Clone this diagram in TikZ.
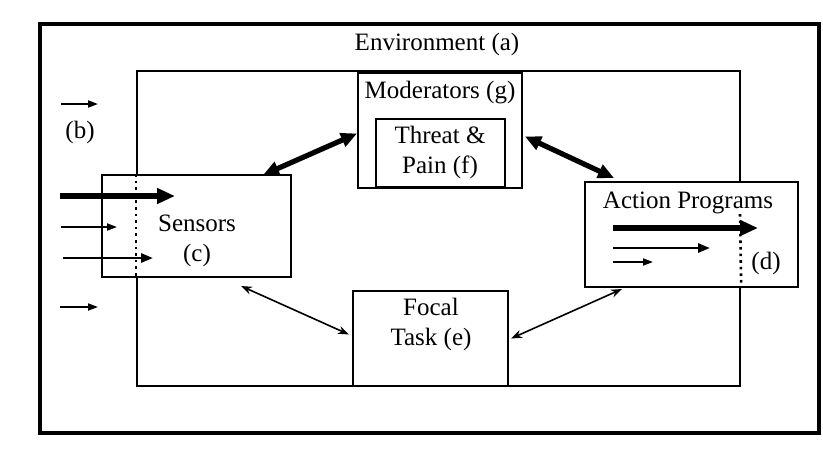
\documentclass[tikz,border=0pt]{standalone}
\usepackage{fontspec}
\setmainfont{Liberation Serif}
\usetikzlibrary{arrows.meta, fit}

\begin{document}
\begin{tikzpicture}[
        x=0.5pt, y=-0.5pt,
        font=\fontsize{12.5}{15}\selectfont,
        box/.style={draw, line width=1pt, fill=white, inner sep=0pt},
        lbl/.style={align=center, inner sep=0pt},
        bigarr/.style={-{Triangle[length=9pt, width=7.5pt]}, line width=3pt},
        midarr/.style={-{Triangle[length=6pt, width=4.5pt]}, line width=1.4pt},
        thinarr/.style={-{Triangle[length=5pt, width=3.5pt]}, line width=0.9pt},
        link/.style={{Triangle[length=8pt, width=7pt]}-{Triangle[length=8pt, width=7pt]}, line width=2.6pt},
        thinlink/.style={{Stealth[length=5.5pt, width=4pt]}-{Stealth[length=5.5pt, width=4pt]}, line width=0.8pt},
    ]
    \useasboundingbox (0,0) rectangle (823,457);

    % Outer frame and environment
    \node[draw, line width=2.2pt, inner sep=0pt, fit={(40,24) (819,433)}] (frame) {};
    \node[draw, line width=1.2pt, inner sep=0pt, fit={(137,71) (740,386)}] (env) {};
    \node[lbl] (envtxt) at (437,44) {Environment (a)};

    % Moderators with threat & pain inside
    \node[box, fit={(358,73) (522,188)}] (mod) {};
    \node[lbl] (modtxt) at (440,93) {Moderators (g)};
    \node[box, line width=1.3pt, fit={(376,119) (505,187)}] (threat) {};
    \node[lbl] (threattxt) at (440,152) {Threat \&\\Pain (f)};

    % Sensors
    \node[box, fit={(102,175) (291,277)}] (sens) {};
    \node[lbl] (senstxt) at (197,241) {Sensors\\(c)};
    \draw[dotted, line width=1.3pt] (sens.north -| env.west) -- (sens.south -| env.west);

    % Action programs
    \node[box, fit={(585,182) (798,287)}] (act) {};
    \node[lbl] (acttxt) at (688,203) {Action Programs};
    \node[lbl] (dtxt) at (766,263) {(d)};
    \coordinate (dtop) at (740,214);
    \draw[dotted, line width=1.3pt] (dtop) -- (act.south -| env.east);

    % Focal task
    \node[box, fit={(353,291) (508,386)}] (focal) {};
    \node[lbl] (focaltxt) at (431,324) {Focal\\Task (e)};

    % Inputs (b)
    \node[lbl] (btxt) at (80,132) {(b)};
    \coordinate (in0) at (61,104);
    \coordinate (in1) at (60,196);
    \coordinate (in2) at (61,227);
    \coordinate (in3) at (63,258);
    \coordinate (in4) at (60,307);
    \draw[thinarr] (in0) -- ++(37,0);
    \draw[bigarr] (in1) -- ++(115,0);
    \draw[thinarr] (in2) -- ++(56,0);
    \draw[midarr] (in3) -- ++(90,0);
    \draw[thinarr] (in4) -- ++(38,0);

    % Outputs (d)
    \coordinate (out1) at (613,228);
    \coordinate (out2) at (613,248);
    \coordinate (out3) at (613,262);
    \draw[bigarr] (out1) -- ++(145,0);
    \draw[midarr] (out2) -- ++(97,0);
    \draw[thinarr] (out3) -- ++(40,0);

    % Links between boxes
    \draw[link] ([xshift=-14.5pt, yshift=-0.5pt]sens.north east) -- ([yshift=-1.5pt]mod.west);
    \draw[link] ([xshift=1pt, yshift=-3pt]mod.east) -- ([xshift=15pt, yshift=1.5pt]act.north west);
    \draw[thinlink] ([xshift=-25.5pt, yshift=-4pt]sens.south east) -- ([xshift=-1.5pt, yshift=2pt]focal.west);
    \draw[thinlink] ([xshift=1pt]focal.east) -- ([xshift=19pt, yshift=-0.5pt]act.south west);
\end{tikzpicture}
\end{document}
